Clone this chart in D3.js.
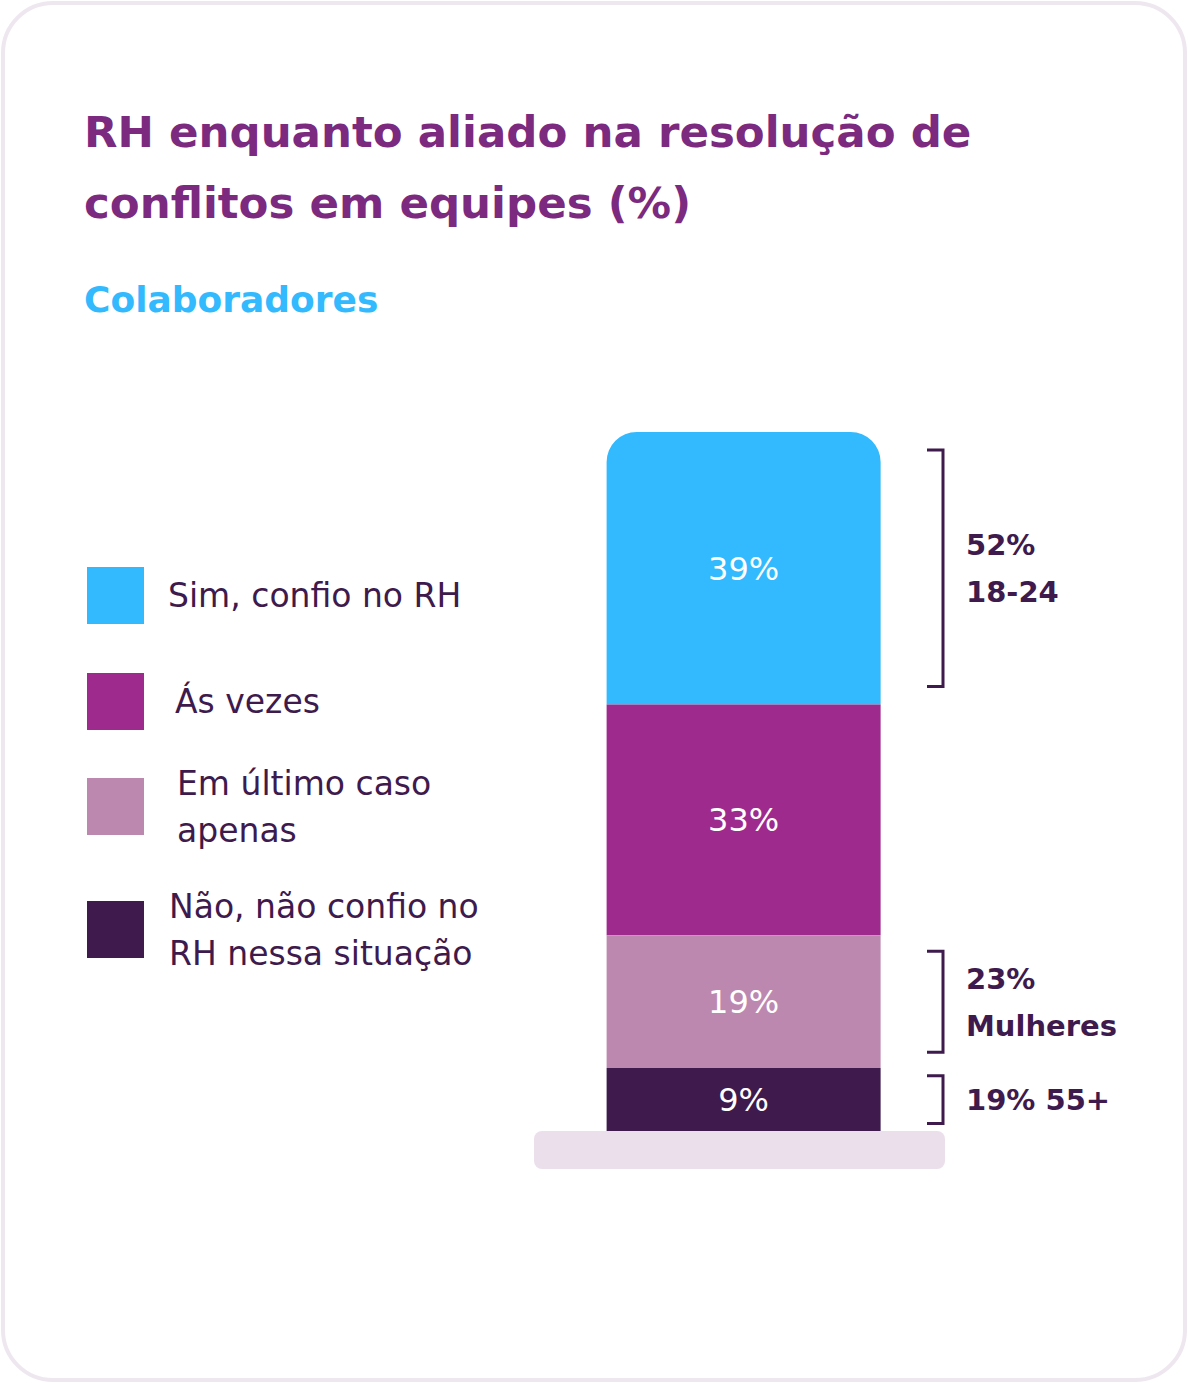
<!DOCTYPE html>
<html>
<head>
<meta charset="utf-8">
<script src="https://cdn.jsdelivr.net/npm/d3@7"></script>
<style>
  body { margin: 0; background: #fff; }
  svg { display: block; font-family: "DejaVu Sans", "Noto Sans", sans-serif; }
</style>
</head>
<body>
<div id="chart"></div>
<script>
const W = 1188, H = 1383;

const categories = ["Sim, confio no RH", "Ás vezes", "Em último caso apenas", "Não, não confio no RH nessa situação"];
const legendLines = [["Sim, confio no RH"], ["Ás vezes"], ["Em último caso", "apenas"], ["Não, não confio no", "RH nessa situação"]];
const values = [39, 33, 19, 9];
const colors = ["#33b9fd", "#9e2a8e", "#bd88b0", "#3e1a4d"];

// side notes: which segment they point at and their lines
const noteSegment = [0, 2, 3];
const noteLines = [["52%", "18-24"], ["23%", "Mulheres"], ["19% 55+"]];

const DARK = "#3e1a4d";

const svg = d3.select("#chart").append("svg")
  .attr("width", W)
  .attr("height", H);

// card
svg.append("rect")
  .attr("x", 3).attr("y", 3)
  .attr("width", W - 6).attr("height", H - 6)
  .attr("rx", 50)
  .attr("fill", "#fff")
  .attr("stroke", "#eee7f0")
  .attr("stroke-width", 4);

// title
const title = svg.append("text")
  .attr("x", 84)
  .attr("fill", "#7b2a80")
  .attr("font-size", 43.5)
  .attr("font-weight", 700);
title.append("tspan").attr("x", 84).attr("y", 147).text("RH enquanto aliado na resolução de");
title.append("tspan").attr("x", 84).attr("y", 218).text("conflitos em equipes (%)");

svg.append("text")
  .attr("x", 84).attr("y", 312)
  .attr("fill", "#33b9fd")
  .attr("font-size", 36)
  .attr("font-weight", 700)
  .text("Colaboradores");

// stacked bar
const stacked = [];
let acc = 0;
values.forEach((v, i) => {
  stacked.push({ key: categories[i], value: v, y0: acc, y1: acc + v, color: colors[i] });
  acc += v;
});

const y = d3.scaleLinear()
  .domain([0, d3.sum(values)])
  .range([432, 1131]);

const x = d3.scaleBand()
  .domain(["Colaboradores"])
  .range([534, 945])
  .paddingInner(0)
  .paddingOuter(0.25)
  .align(0.53);

const bx = x("Colaboradores"), bw = x.bandwidth();
const r = 30;

const bar = svg.append("g");

bar.selectAll("path")
  .data(stacked)
  .join("path")
    .attr("fill", d => d.color)
    .attr("d", (d, i) => {
      const top = y(d.y0), bot = y(d.y1);
      if (i === 0) {
        return `M${bx},${bot} V${top + r} A${r},${r} 0 0 1 ${bx + r},${top} H${bx + bw - r} A${r},${r} 0 0 1 ${bx + bw},${top + r} V${bot} Z`;
      }
      return `M${bx},${top} H${bx + bw} V${bot} H${bx} Z`;
    });

bar.selectAll("text")
  .data(stacked)
  .join("text")
    .attr("x", bx + bw / 2)
    .attr("y", d => (y(d.y0) + y(d.y1)) / 2)
    .attr("dy", "0.36em")
    .attr("text-anchor", "middle")
    .attr("fill", "#fff")
    .attr("font-size", 32)
    .attr("font-weight", 500)
    .text(d => d.value + "%");

// base plate
svg.append("rect")
  .attr("x", x.range()[0])
  .attr("y", y.range()[1])
  .attr("width", x.range()[1] - x.range()[0])
  .attr("height", 38)
  .attr("rx", 8)
  .attr("fill", "#ebdfeb");

// brackets and notes
const notes = svg.append("g");
noteSegment.forEach((si, k) => {
  const s = stacked[si];
  const h = y(s.y1) - y(s.y0);
  const inset = Math.min(18, h * 0.12);
  const top = y(s.y0) + inset, bot = y(s.y1) - inset;
  const bxr = 943;
  notes.append("path")
    .attr("d", `M${bxr - 16},${top} H${bxr} V${bot} H${bxr - 16}`)
    .attr("fill", "none")
    .attr("stroke", DARK)
    .attr("stroke-width", 3);
  const mid = (top + bot) / 2;
  const lines = noteLines[k];
  const lh = 47;
  const t = notes.append("text")
    .attr("fill", DARK)
    .attr("font-size", 29)
    .attr("font-weight", 700);
  lines.forEach((ln, j) => {
    t.append("tspan")
      .attr("x", 966)
      .attr("y", mid + (j - (lines.length - 1) / 2) * lh)
      .attr("dy", "0.36em")
      .text(ln);
  });
});

// legend
const legendY = [567, 673, 778, 901];
const legendTextX = [168, 175, 177, 169];
const legend = svg.append("g");
legendLines.forEach((lines, i) => {
  legend.append("rect")
    .attr("x", 87).attr("y", legendY[i])
    .attr("width", 57).attr("height", 57)
    .attr("fill", colors[i]);
  const mid = legendY[i] + 28.5;
  const t = legend.append("text")
    .attr("fill", DARK)
    .attr("font-size", 33)
    .attr("font-weight", 400);
  lines.forEach((ln, j) => {
    t.append("tspan")
      .attr("x", legendTextX[i])
      .attr("y", mid + (j - (lines.length - 1) / 2) * 47)
      .attr("dy", "0.36em")
      .text(ln);
  });
});
</script>
</body>
</html>
